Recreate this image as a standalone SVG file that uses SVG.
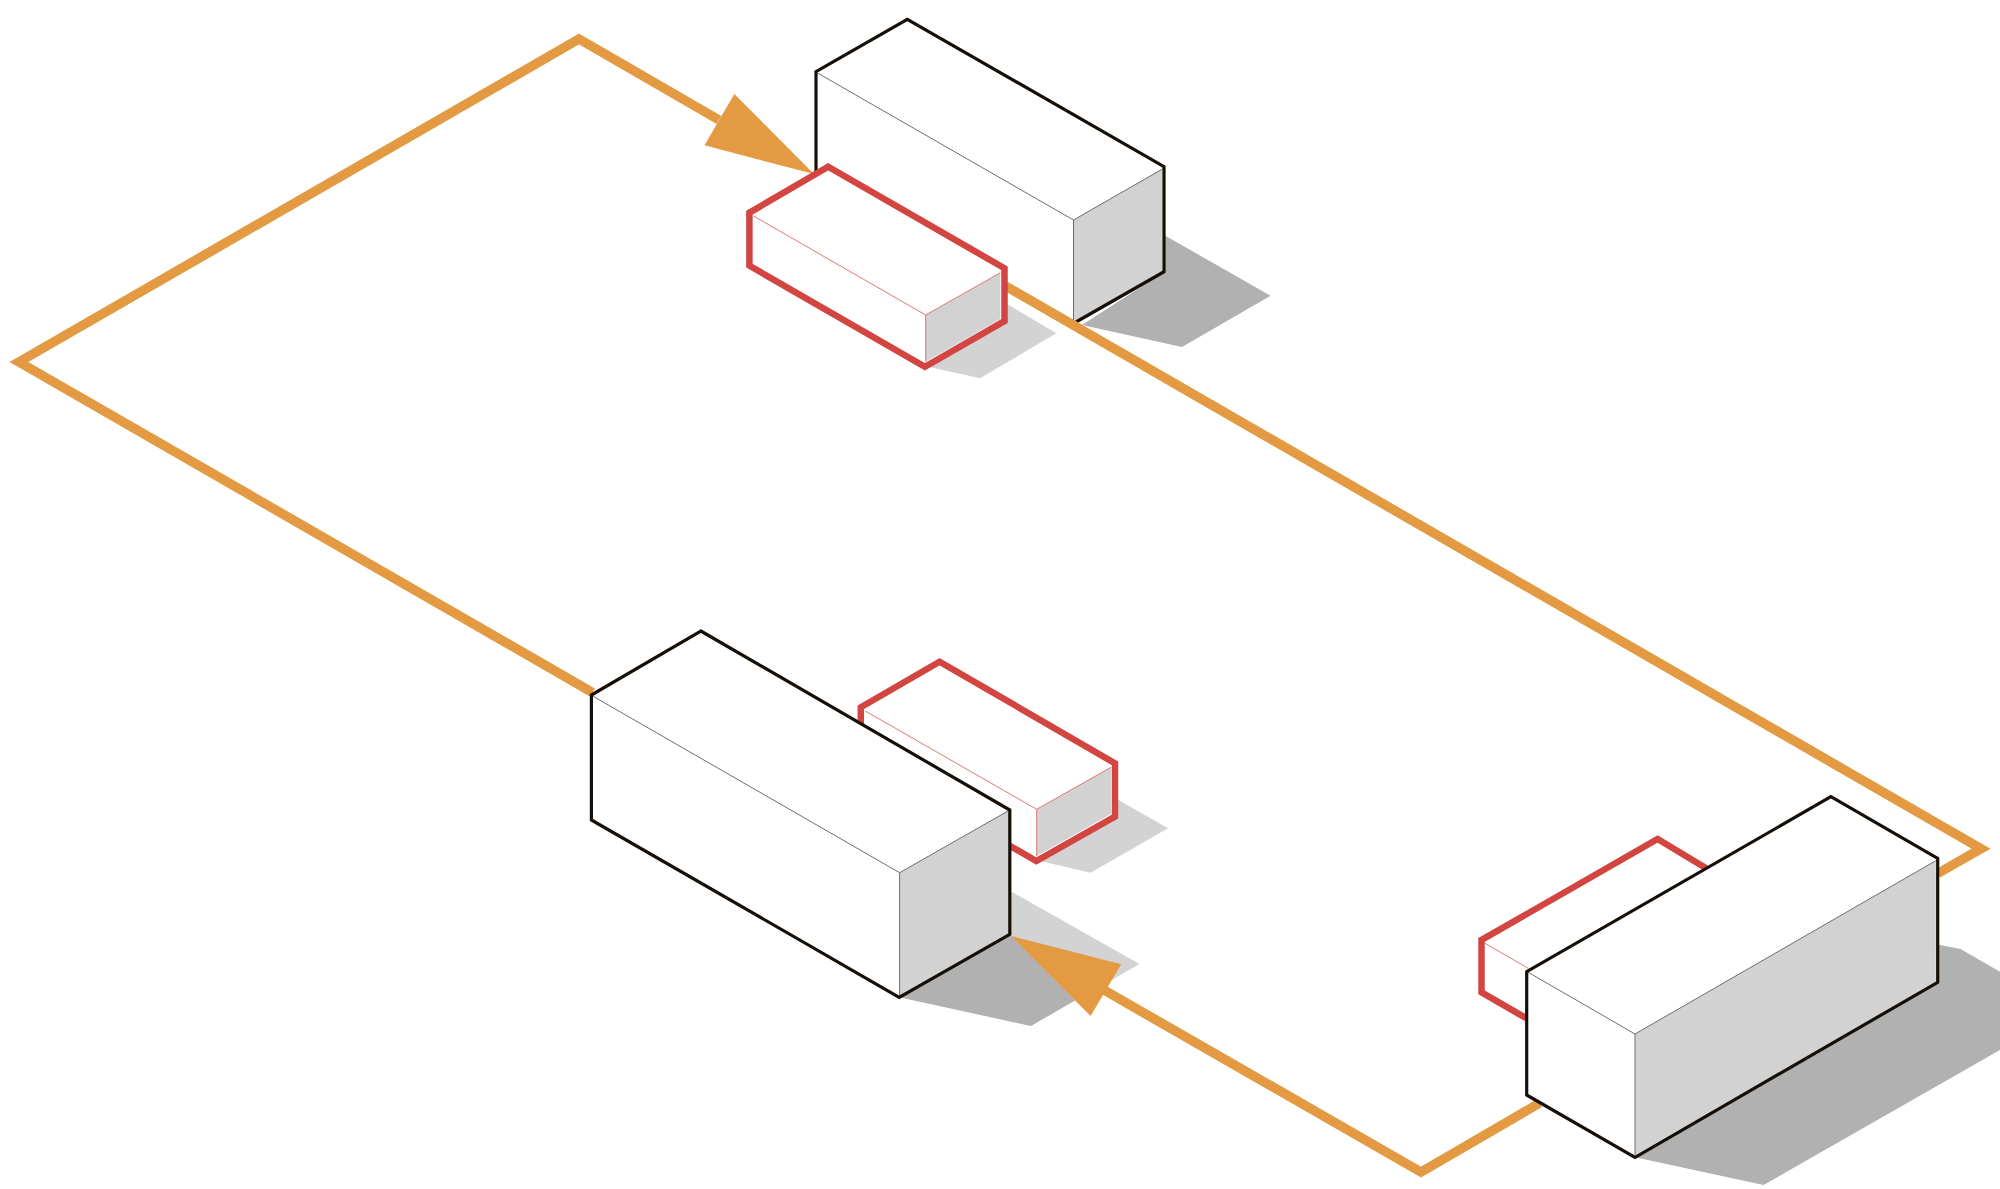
<svg xmlns="http://www.w3.org/2000/svg" width="2000" height="1189" viewBox="0 0 2000 1189">
<style>
.bg{fill:#fff}
.sd{fill:#b1b1b2}
.sl{fill:#d3d3d4}
.white{fill:#fff}
.side{fill:#d3d2d3}
.k{fill:none;stroke:#150f08;stroke-width:3.2;stroke-linejoin:miter}
.r{fill:none;stroke:#d24540;stroke-width:6.5;stroke-linejoin:miter}
.tk{fill:none;stroke:#6e6e6e;stroke-width:1}
.tr{fill:none;stroke:#e07874;stroke-width:1}
.o{fill:none;stroke:#e39a42;stroke-width:9.5;stroke-linejoin:miter}
.a{fill:#e39a42}
</style>
<rect class="bg" width="2000" height="1189"/>
<g id="shadows">
<polygon class="sd" points="1164,235 1270.6,295.7 1182,347 1082,325 1164,272"/>
<polygon class="sl" points="1004,302 1056.3,333.3 980,378.3 925,366 1004,320"/>
<polygon class="sl" points="1115,798 1168,828.3 1090.6,872.7 1036,860 1115,815"/>
<polygon class="sl" points="1009.8,890.7 1139.6,964 1075,1001 1009.8,936"/>
<polygon class="sd" points="1009.8,934.3 1075,1000.6 1031,1026 899,997.3"/>
<polygon class="sd" points="1937.7,944.5 1960.6,949 2000,971.7 2000,1050 1763.6,1185 1635,1157.3 1937.7,982.3"/>
</g>
<g id="box-a">
<polygon class="white" points="907.3,19.3 1164,166.7 1164,271.7 1074,323 816,173 816,71.7"/>
<polygon class="side" points="1073.5,220 1162,169 1162,271 1073.5,322"/>
<polyline class="tk" points="817.5,73 1073.5,220 1162.5,169"/>
<line class="tk" x1="1073.5" y1="220" x2="1073.5" y2="322"/>
<polyline class="k" points="816,173 816,71.7 907.3,19.3 1164,166.7 1164,271.7 1076,322"/>
</g>
<g id="connectors">
<polyline class="o" points="719,120 579,39 19,362 592.6,692.6"/>
<polygon class="a" points="813.9,174 734.3,94 704.5,145.3"/>
<polyline class="o" points="1002,284 1981,848.7 1937.7,873.5"/>
<polyline class="o" points="1539.7,1103 1421,1172 1090,982"/>
<polygon class="a" points="1011,936 1121.2,964.3 1090.6,1016"/>
</g>
<g id="box-b">
<polygon class="white" points="828.2,166.7 1004.5,268.3 1004.5,321 924.9,366.7 749.4,265.7 749.4,212.7"/>
<polygon class="side" points="925.7,315 1000.4,272.7 1000.4,319 925.7,361.7"/>
<polyline class="tr" points="753.5,216 925.7,315 1000.4,272.7"/>
<line class="tr" x1="925.7" y1="315" x2="925.7" y2="361.7"/>
<polygon class="r" points="828.2,166.7 1004.5,268.3 1004.5,321 924.9,366.7 749.4,265.7 749.4,212.7"/>
</g>
<g id="box-d">
<polygon class="white" points="939.6,661.7 1115,763.3 1115,816.7 1036.3,861 860.8,760 860.8,707.3"/>
<polygon class="side" points="1036.7,809.3 1111,767.3 1111,814 1036.7,856"/>
<polyline class="tr" points="865.3,711 1036.7,809.3 1111,767.3"/>
<line class="tr" x1="1036.7" y1="809.3" x2="1036.7" y2="856"/>
<polygon class="r" points="939.6,661.7 1115,763.3 1115,816.7 1036.3,861 860.8,760 860.8,707.3"/>
</g>
<g id="box-c">
<polygon class="white" points="700.8,631 1009.8,810 1009.8,934.3 899.2,997.3 591.4,820 591.4,695"/>
<polygon class="side" points="899.6,872.7 1009.8,810 1009.8,934.3 899.6,997"/>
<polyline class="tk" points="592.7,696 899.6,872.7 1009.8,810"/>
<line class="tk" x1="899.6" y1="872.7" x2="899.6" y2="997"/>
<polygon class="k" points="700.8,631 1009.8,810 1009.8,934.3 899.2,997.3 591.4,820 591.4,695"/>
</g>
<g id="box-f">
<polygon class="white" points="1657.6,839 1706.2,868.3 1526.3,1018.3 1481.5,992.3 1481.5,940"/>
<line class="tr" x1="1485" y1="943.3" x2="1528.2" y2="968.3"/>
<polyline class="r" points="1706.2,868.3 1657.6,839 1481.5,940 1481.5,992.3 1526.3,1018.3"/>
</g>
<g id="box-e">
<polygon class="white" points="1830.9,796.7 1937.7,858.3 1937.7,982.3 1635,1157.3 1526.7,1095 1526.7,971.7"/>
<polygon class="side" points="1635,1034 1935.8,860.7 1935.8,982 1635,1155"/>
<polyline class="tk" points="1528.2,972.3 1635,1034 1935.8,860.7"/>
<line class="tk" x1="1635" y1="1034" x2="1635" y2="1155"/>
<polygon class="k" points="1830.9,796.7 1937.7,858.3 1937.7,982.3 1635,1157.3 1526.7,1095 1526.7,971.7"/>
</g>
</svg>
